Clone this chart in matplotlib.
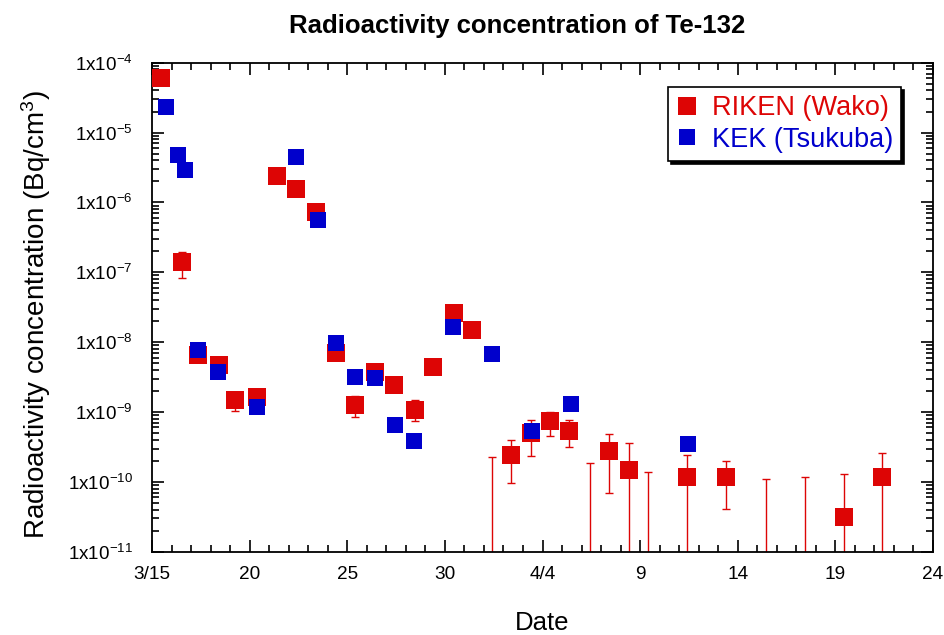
import numpy as np
import matplotlib
matplotlib.use("Agg")
import matplotlib.pyplot as plt

plt.rcParams['font.family'] = ['Liberation Sans', 'DejaVu Sans']
plt.rcParams['mathtext.fontset'] = 'custom'
plt.rcParams['mathtext.rm'] = 'Liberation Sans'
plt.rcParams['mathtext.it'] = 'Liberation Sans:italic'
plt.rcParams['mathtext.bf'] = 'Liberation Sans:bold'

RED = '#dd0505'
BLUE = '#0000cc'

# days after 3/15
riken_day = [0.45, 1.55, 2.36, 3.42, 4.25, 5.38, 6.40, 7.38, 8.40, 9.40, 10.40,
             11.40, 12.39, 13.46, 14.40, 15.47, 16.39, 18.40, 19.40, 20.40, 21.36,
             23.42, 24.43, 27.42, 29.42, 35.44, 37.40]
riken_val = [6.0e-5, 1.4e-7, 6.5e-9, 4.75e-9, 1.48e-9, 1.66e-9, 2.4e-6, 1.56e-6, 7.3e-7,
             7.06e-9, 1.27e-9, 3.73e-9, 2.46e-9, 1.07e-9, 4.37e-9, 2.57e-8, 1.49e-8,
             2.45e-10, 5.0e-10, 7.36e-10, 5.4e-10, 2.77e-10, 1.47e-10, 1.17e-10,
             1.17e-10, 3.14e-11, 1.17e-10]
# error bar ends (nan = no bar drawn, 1e-12 = below the axis)
riken_lo = [np.nan, 8.2e-8, np.nan, np.nan, 1.03e-9, np.nan, np.nan, np.nan, np.nan,
            np.nan, 8.6e-10, np.nan, np.nan, 7.5e-10, np.nan, np.nan, np.nan,
            9.7e-11, 2.37e-10, 4.5e-10, 3.16e-10, 6.85e-11, 1e-12, 1e-12,
            4.05e-11, 1e-12, 1e-12]
riken_hi = [np.nan, 1.97e-7, np.nan, np.nan, 1.9e-9, np.nan, np.nan, np.nan, np.nan,
            np.nan, 1.7e-9, np.nan, np.nan, 1.47e-9, np.nan, np.nan, np.nan,
            3.98e-10, 7.8e-10, 1.0e-9, 7.8e-10, 4.84e-10, 3.56e-10, 2.4e-10,
            1.97e-10, 1.31e-10, 2.57e-10]

# RIKEN samples below detection: only the upper end of the error bar
riken_limit_day = [17.41, 22.42, 25.39, 31.45, 33.44]
riken_limit_hi = [2.24e-10, 1.88e-10, 1.38e-10, 1.09e-10, 1.19e-10]

kek_day = [0.72, 1.33, 1.69, 2.37, 3.40, 5.40, 7.38, 8.48, 9.44, 10.40, 11.44,
           12.46, 13.44, 15.43, 17.41, 19.46, 21.46, 27.45]
kek_val = [2.3e-5, 4.85e-6, 2.95e-6, 7.7e-9, 3.73e-9, 1.18e-9, 4.5e-6, 5.6e-7, 9.6e-9,
           3.16e-9, 3.06e-9, 6.5e-10, 3.85e-10, 1.67e-8, 6.76e-9, 5.35e-10, 1.28e-9,
           3.43e-10]

x_ticks = [0, 5, 10, 15, 20, 25, 30, 35, 40]
x_labels = ['3/15', '20', '25', '30', '4/4', '9', '14', '19', '24']
y_exps = list(range(-11, -3))

fig = plt.figure(figsize=(9.44, 6.35), dpi=100)
W, H = 944, 635
ax = fig.add_axes([152 / W, 1 - 551.7 / H, 781 / W, 489 / H])

rd = np.array(riken_day)
rv = np.array(riken_val)
rlo = np.array(riken_lo)
rhi = np.array(riken_hi)
has_bar = ~np.isnan(rlo)

ax.errorbar(rd[has_bar], rv[has_bar],
            yerr=[rv[has_bar] - rlo[has_bar], rhi[has_bar] - rv[has_bar]],
            fmt='none', ecolor=RED, elinewidth=1, capsize=3, capthick=1, zorder=2)

lim_hi = np.array(riken_limit_hi)
lim_base = np.full_like(lim_hi, 1e-12)
ax.errorbar(riken_limit_day, lim_hi, yerr=[lim_hi - lim_base, np.zeros_like(lim_hi)],
            fmt='none', ecolor=RED, elinewidth=1, capsize=3, capthick=1, zorder=2)

ax.plot(rd, rv, 's', color=RED, markersize=12.6, markeredgewidth=0,
        label='RIKEN (Wako)', zorder=3)
ax.plot(kek_day, kek_val, 's', color=BLUE, markersize=11, markeredgewidth=0,
        label='KEK (Tsukuba)', zorder=4)

ax.set_yscale('log')
ax.set_xlim(0, 40)
ax.set_ylim(1e-11, 1e-4)

ax.set_xticks(x_ticks)
ax.set_xticklabels(x_labels, fontsize=13.7)
ax.set_xticks(np.arange(0, 41, 1), minor=True)
ax.set_yticks([10.0 ** e for e in y_exps])
ax.set_yticklabels([r'$1\mathrm{x}10^{%d}$' % e for e in y_exps], fontsize=13.6)
ax.yaxis.set_minor_locator(matplotlib.ticker.LogLocator(base=10, subs=np.arange(2, 10)))
ax.yaxis.set_minor_formatter(matplotlib.ticker.NullFormatter())

ax.tick_params(which='both', direction='in', top=True, right=True, width=1.2, color='black')
ax.tick_params(which='major', length=8.6)
ax.tick_params(which='minor', length=4.7)
ax.tick_params(axis='x', which='major', pad=10)
ax.tick_params(axis='y', which='major', pad=14)
for s in ax.spines.values():
    s.set_linewidth(1.3)

leg = ax.legend(loc='upper right', bbox_to_anchor=(0.959, 0.950), fontsize=19.5,
                frameon=True, fancybox=False, shadow={'color': 'black', 'alpha': 1},
                handlelength=0.75, handletextpad=0.55, borderpad=0.3,
                labelspacing=0.2, borderaxespad=0)
leg.get_frame().set_edgecolor('black')
leg.get_frame().set_linewidth(1.2)
for txt, c in zip(leg.get_texts(), [RED, BLUE]):
    txt.set_color(c)

fig.text(517 / W, 1 - 33 / H, 'Radioactivity concentration of Te-132',
         ha='center', va='baseline', fontsize=18.5, fontweight='bold')
fig.text(36 / W, 1 - 315 / H, r'Radioactivity concentration (Bq/cm$^{3}$)',
         ha='center', va='center', rotation=90, fontsize=20)
fig.text(542 / W, 1 - 630.5 / H, 'Date', ha='center', va='baseline', fontsize=18.5)

fig.savefig('out.png', dpi=100)
